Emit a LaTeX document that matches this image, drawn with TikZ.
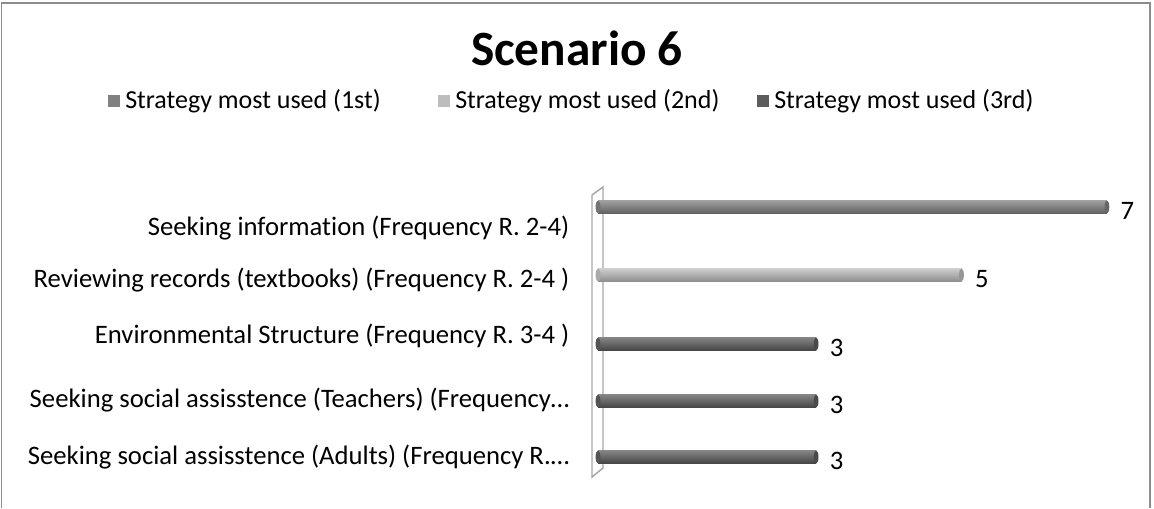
\documentclass[tikz,border=0pt]{standalone}
\usepackage{fontspec}
\setmainfont[Ligatures=NoCommon]{Carlito}
\usepackage{xcolor}
\usepackage{tikz}

\definecolor{firstgray}{HTML}{808080}
\definecolor{secondgray}{HTML}{BDBDBD}
\definecolor{thirdgray}{HTML}{5C5C5C}
\definecolor{wallgray}{HTML}{A6A6A6}
\definecolor{framegray}{HTML}{8C8C8C}

\tikzset{
  charttext/.style={font=\fontsize{20}{24}\selectfont},
  barlabel/.style={charttext,anchor=east},
  barvalue/.style={charttext,anchor=west},
  legendtext/.style={font=\fontsize{19.5}{23}\selectfont,anchor=west,inner sep=0pt},
}

\begin{document}
\begin{tikzpicture}[x=0.75pt,y=-0.75pt]
	\useasboundingbox (0,0) rectangle (1154,508);
	% outer frame (open at the bottom)
	\draw[framegray,line width=1.1pt] (1.5,508) -- (1.5,3) -- (1150,3) -- (1150,508);
	
	\node[font=\fontsize{37}{42}\selectfont\bfseries] (title) at (577,48) {Scenario 6};
	
	% legend
	\foreach \i/\x/\c/\t in {1/108/firstgray/1st,2/438/secondgray/2nd,3/757/thirdgray/3rd}{
		\fill[\c] (\x,95) rectangle (\x+12,107);
		\node[legendtext] (leg\i) at (\x+17,101) {Strategy most used (\t)};
	}
	
	% axis wall
	\draw[wallgray,line width=1.1pt,fill=white] (592,477) -- (592,195) -- (603,187) -- (603,468) -- cycle;
	
	% bars
	\foreach \i/\y/\ly/\v/\c/\txt in {
		1/207/228/7/firstgray/Seeking information (Frequency R. 2-4),
		2/275/280/5/secondgray/Reviewing records (textbooks) (Frequency R. 2-4 ),
		3/344/336/3/thirdgray/Environmental Structure (Frequency R. 3-4 ),
		4/401/400/3/thirdgray/Seeking social assisstence (Teachers) (Frequency…,
		5/457/457/3/thirdgray/Seeking social assisstence (Adults) (Frequency R.…}{
		\pgfmathsetmacro{\xe}{598+72.7*\v}
		\shade[top color=\c!75!white,middle color=\c,bottom color=\c!75!black] (598,\y-6.5) rectangle (\xe,\y+6.5);
		\fill[\c!80!black] (\xe,\y) ellipse (1.8pt and 4.9pt);
		\fill[\c!90!black] (598,\y) ellipse (1.8pt and 4.9pt);
		\node[barvalue] (val\i) at (\xe+9,\y+4) {\v};
		\node[barlabel] (lab\i) at (574,\ly) {\txt};
	}
\end{tikzpicture}
\end{document}
